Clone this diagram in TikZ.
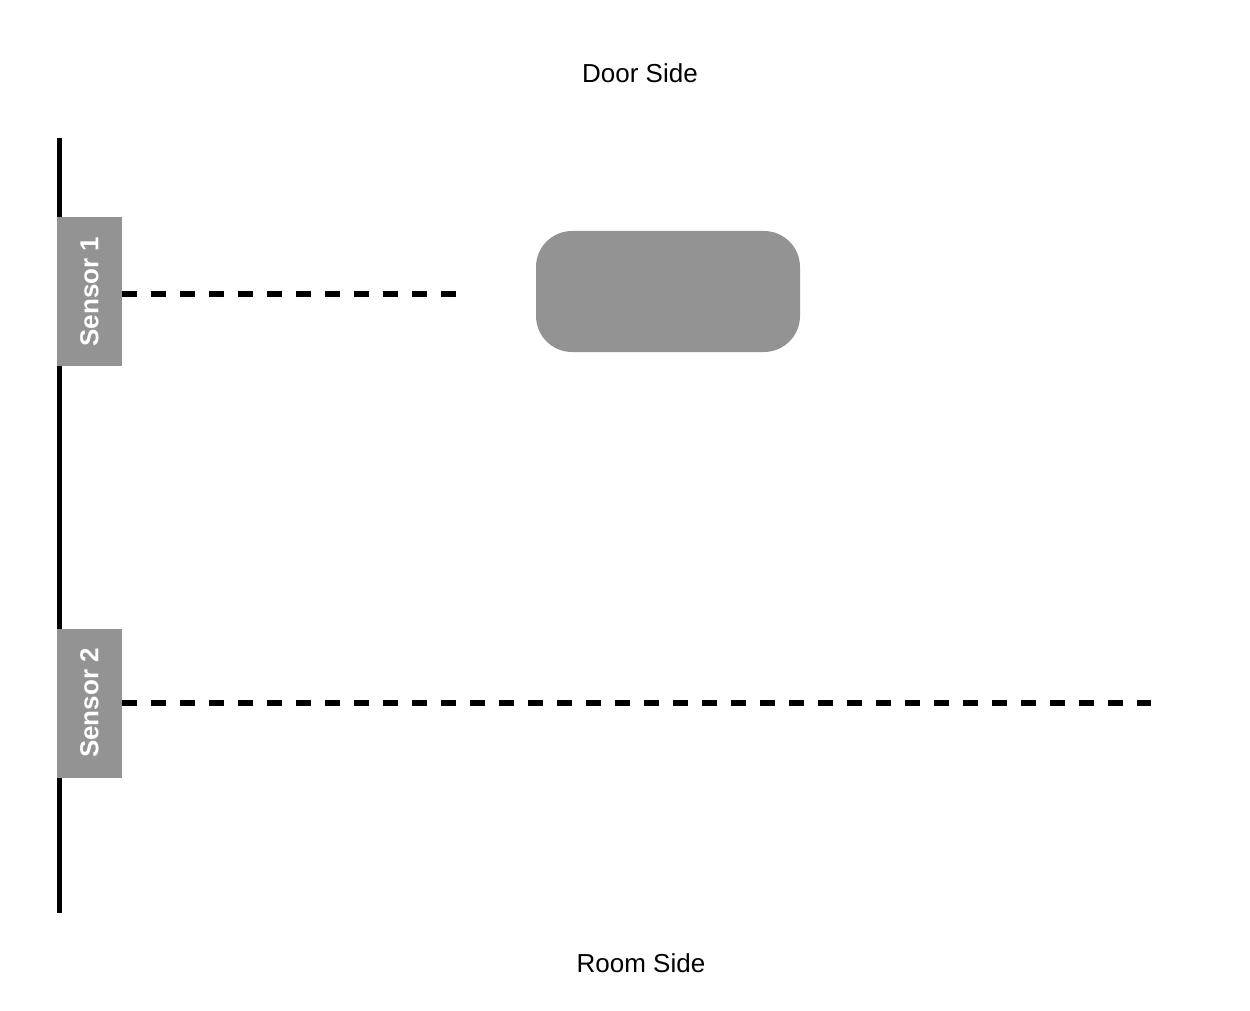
\documentclass[tikz,border=0pt]{standalone}
\usepackage{fontspec}
\setmainfont{Liberation Sans}
\definecolor{boxgray}{RGB}{147,147,147}
\begin{document}
\begin{tikzpicture}[x=1pt,y=-1pt,
  sensorbox/.style={fill=boxgray,inner sep=0pt,minimum width=65pt,minimum height=149pt,
    text=white,font=\fontsize{26}{30}\selectfont\bfseries},
  beam/.style={line width=6pt,dash pattern=on 14.5pt off 14.5pt},
  sidelabel/.style={font=\fontsize{26}{30}\selectfont,inner sep=0pt},
  objbox/.style={fill=boxgray,rounded corners=36pt,inner sep=0pt,minimum width=264pt,minimum height=121pt}]
\useasboundingbox (0,0) rectangle (1250,1011);
\coordinate (wt) at (59.5,138);
\coordinate (wb) at (59.5,913);
\draw[line width=4.5pt] (wt) -- (wb);
\node[sensorbox] (s1) at (89.5,291.5) {\rotatebox{90}{Sensor 1}};
\node[sensorbox] (s2) at (89.5,703) {\rotatebox{90}{Sensor 2}};
\node[objbox] (obj) at (668,291.5) {};
\coordinate (e1) at (456,294);
\coordinate (e2) at (1151,703);
\draw[beam] (s1.east |- e1) -- (e1);
\draw[beam] (s2.east |- e2) -- (e2);
\node[sidelabel] (door) at (640,73.5) {Door Side};
\node[sidelabel] (room) at (641,963) {Room Side};
\end{tikzpicture}
\end{document}
